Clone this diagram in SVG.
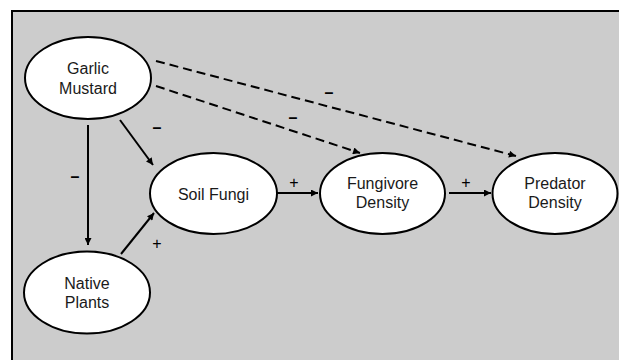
<svg xmlns="http://www.w3.org/2000/svg" width="619" height="360" viewBox="0 0 619 360">
<defs>
<style>
.node ellipse{fill:#fff;stroke:#000;stroke-width:2}
.node text{font-family:"Liberation Sans",Arial,sans-serif;font-size:16px;text-anchor:middle;fill:#1a1a1a}
.edge{stroke:#000;stroke-width:2;fill:none}
.dash{stroke-dasharray:9 5}
.lbl{font-family:"Liberation Sans",Arial,sans-serif;font-size:16px;text-anchor:middle;fill:#000}
.minus{font-weight:bold}
</style>
<marker id="arr" viewBox="0 0 10 10" refX="10" refY="5" markerWidth="8" markerHeight="7" markerUnits="userSpaceOnUse" orient="auto">
<path d="M0,0 L10,5 L0,10 z" fill="#000"/>
</marker>
</defs>
<rect x="0" y="0" width="619" height="360" fill="#fff"/>
<rect x="12" y="11" width="620" height="360" fill="#cccccc" stroke="#000" stroke-width="2"/>
<g id="connectors">
<line class="edge" x1="88" y1="125" x2="88" y2="245" marker-end="url(#arr)"/>
<line class="edge" x1="120" y1="120" x2="153" y2="165" marker-end="url(#arr)"/>
<line class="edge" x1="121" y1="254" x2="154" y2="213" marker-end="url(#arr)"/>
<line class="edge" x1="277" y1="193" x2="318" y2="193" marker-end="url(#arr)"/>
<line class="edge" x1="449" y1="193" x2="491" y2="193" marker-end="url(#arr)"/>
<line class="edge dash" x1="156" y1="86" x2="360" y2="153" marker-end="url(#arr)"/>
<line class="edge dash" x1="156" y1="61" x2="516" y2="156" marker-end="url(#arr)"/>
<text class="lbl minus" x="157" y="133">–</text>
<text class="lbl minus" x="75" y="182">–</text>
<text class="lbl minus" x="293" y="123">–</text>
<text class="lbl minus" x="329" y="98">–</text>
<text class="lbl" x="157" y="249">+</text>
<text class="lbl" x="294" y="188">+</text>
<text class="lbl" x="466" y="188">+</text>
</g>
<g id="garlic" class="node">
<ellipse cx="88" cy="78" rx="63" ry="41"/>
<text x="88" y="74">Garlic</text>
<text x="88" y="94">Mustard</text>
</g>
<g id="native" class="node">
<ellipse cx="87" cy="292.5" rx="63" ry="41"/>
<text x="87" y="289">Native</text>
<text x="87" y="308">Plants</text>
</g>
<g id="soil" class="node">
<ellipse cx="213.5" cy="193.5" rx="63.5" ry="40.5"/>
<text x="213.5" y="200">Soil Fungi</text>
</g>
<g id="fungivore" class="node">
<ellipse cx="382.5" cy="193.5" rx="62.5" ry="40.5"/>
<text x="382.5" y="189">Fungivore</text>
<text x="382.5" y="208">Density</text>
</g>
<g id="predator" class="node">
<ellipse cx="555" cy="193.5" rx="62.5" ry="40.5"/>
<text x="555" y="189">Predator</text>
<text x="555" y="208">Density</text>
</g>
</svg>
